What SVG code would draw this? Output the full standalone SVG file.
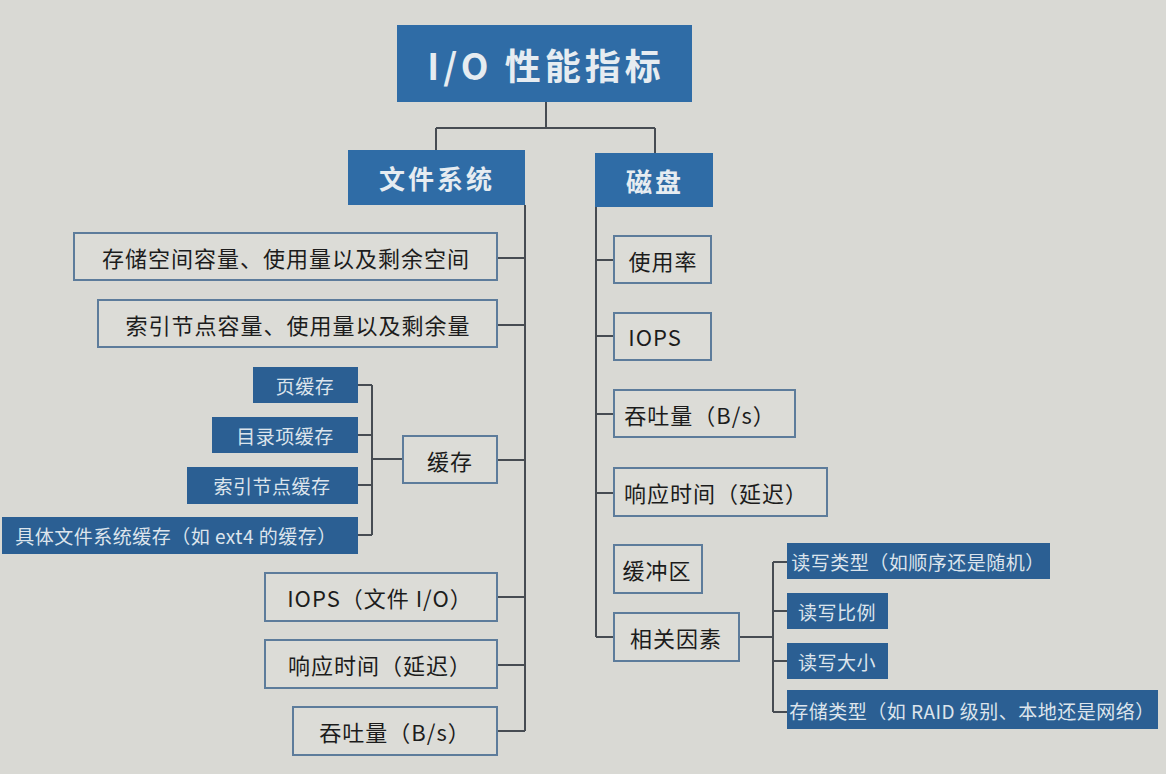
<svg xmlns="http://www.w3.org/2000/svg" width="1166" height="774" viewBox="0 0 1166 774">
<style>
.bg{fill:#d9d9d4}
.head{fill:#2f6ca6}
.sub{fill:#2b5f93}
.box{fill:#dcdcd7;stroke:#5d7c9b;stroke-width:2}
.t{font-family:"Noto Sans CJK SC","Noto Sans",sans-serif;dominant-baseline:central;text-anchor:middle}
.tb{font-size:22px;fill:#1c1c1c;letter-spacing:1px}
.ts{font-size:19px;fill:#dce4ec;letter-spacing:0.5px}
.th{font-weight:bold;fill:#e6ecf1}
.ln{fill:none;stroke:#474c52;stroke-width:2}
</style>
<rect class="bg" x="0" y="0" width="1166" height="774"/>
<g id="connectors">
<path class="ln" d="M546 102V128M436 128H655M436 128V150M655 128V153"/>
<path class="ln" d="M525 205V731M497 258H525M497 325H525M497 460H525M497 597H525M497 665H525M497 731H525"/>
<path class="ln" d="M358 385H372M358 435H372M358 485H372M358 535H372M372 385V535M372 459H403"/>
<path class="ln" d="M596 207V637M596 260H614M596 336H614M596 414H614M596 493H614M596 637H614"/>
<path class="ln" d="M739 637H773M773 562V712M773 562H787M773 611H787M773 661H787M773 712H787"/>
</g>
<g id="root"><rect class="head" x="397" y="25" width="295" height="77"/><text class="t th" x="546" y="64" font-size="36" letter-spacing="4">I/O 性能指标</text></g>
<g id="fs"><rect class="head" x="348" y="150" width="177" height="55"/><text class="t th" x="437" y="177" font-size="26" letter-spacing="3">文件系统</text></g>
<g id="disk"><rect class="head" x="595" y="153" width="118" height="54"/><text class="t th" x="655" y="180" font-size="26" letter-spacing="3">磁盘</text></g>
<g id="fs1"><rect class="box" x="74" y="233" width="423" height="47"/><text class="t tb" x="286" y="257">存储空间容量、使用量以及剩余空间</text></g>
<g id="fs2"><rect class="box" x="98" y="300" width="399" height="47"/><text class="t tb" x="298" y="324">索引节点容量、使用量以及剩余量</text></g>
<g id="cache"><rect class="box" x="403" y="436" width="94" height="47"/><text class="t tb" x="450" y="460">缓存</text></g>
<g id="c1"><rect class="sub" x="253" y="367" width="105" height="36"/><text class="t ts" x="305" y="385">页缓存</text></g>
<g id="c2"><rect class="sub" x="212" y="417" width="146" height="36"/><text class="t ts" x="285" y="435">目录项缓存</text></g>
<g id="c3"><rect class="sub" x="187" y="467" width="171" height="37"/><text class="t ts" x="272" y="485">索引节点缓存</text></g>
<g id="c4"><rect class="sub" x="2" y="517" width="356" height="37"/><text class="t ts" x="176" y="535">具体文件系统缓存（如 ext4 的缓存）</text></g>
<g id="fs3"><rect class="box" x="265" y="573" width="232" height="48"/><text class="t tb" x="380" y="597">IOPS（文件 I/O）</text></g>
<g id="fs4"><rect class="box" x="265" y="640" width="232" height="48"/><text class="t tb" x="380" y="664">响应时间（延迟）</text></g>
<g id="fs5"><rect class="box" x="293" y="707" width="204" height="48"/><text class="t tb" x="395" y="731">吞吐量（B/s）</text></g>
<g id="d1"><rect class="box" x="614" y="236" width="97" height="47"/><text class="t tb" x="663" y="260">使用率</text></g>
<g id="d2"><rect class="box" x="614" y="313" width="97" height="47"/><text class="t tb" x="655" y="336">IOPS</text></g>
<g id="d3"><rect class="box" x="614" y="390" width="181" height="47"/><text class="t tb" x="700" y="414">吞吐量（B/s）</text></g>
<g id="d4"><rect class="box" x="614" y="468" width="213" height="48"/><text class="t tb" x="716" y="492">响应时间（延迟）</text></g>
<g id="d5"><rect class="box" x="614" y="545" width="88" height="48"/><text class="t tb" x="657" y="569">缓冲区</text></g>
<g id="d6"><rect class="box" x="614" y="613" width="125" height="48"/><text class="t tb" x="676" y="637">相关因素</text></g>
<g id="r1"><rect class="sub" x="787" y="543" width="263" height="36"/><text class="t ts" x="918" y="561">读写类型（如顺序还是随机）</text></g>
<g id="r2"><rect class="sub" x="787" y="593" width="101" height="36"/><text class="t ts" x="837" y="611">读写比例</text></g>
<g id="r3"><rect class="sub" x="787" y="643" width="101" height="36"/><text class="t ts" x="837" y="661">读写大小</text></g>
<g id="r4"><rect class="sub" x="787" y="690" width="371" height="39"/><text class="t ts" x="972" y="710">存储类型（如 RAID 级别、本地还是网络）</text></g>
</svg>
